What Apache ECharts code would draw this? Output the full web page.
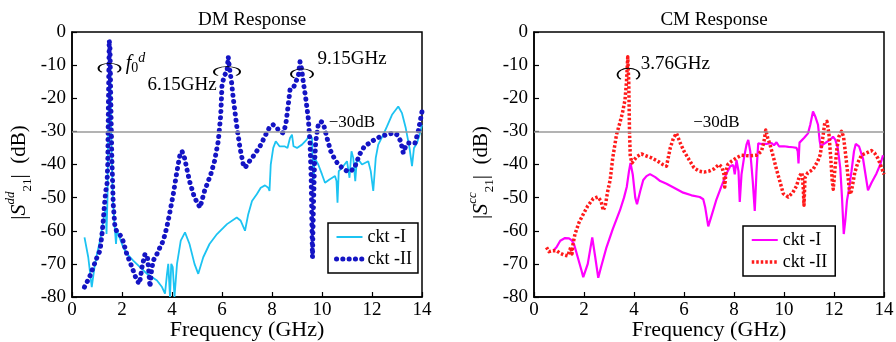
<!DOCTYPE html>
<html>
<head>
<meta charset="utf-8">
<script src="https://cdn.jsdelivr.net/npm/echarts@6/dist/echarts.min.js"></script>
<style>
html,body{margin:0;padding:0;background:#fff;}
#main{width:896px;height:342px;}
</style>
</head>
<body>
<div id="main"></div>
<script>
// DM response, ckt-I
var dmFreq1 = [0.5,0.65,0.79,0.9,1.0,1.12,1.25,1.35,1.38,1.42,1.46,1.5,1.54,1.58,1.63,1.7,1.76,1.8,1.9,2.05,2.2,2.45,2.72,3.0,3.4,3.6,3.72,3.8,3.85,3.92,3.97,4.03,4.1,4.2,4.35,4.52,4.7,4.9,5.05,5.25,5.5,5.8,6.2,6.59,6.75,6.92,7.05,7.2,7.39,7.55,7.72,7.85,7.9,7.95,8.05,8.15,8.3,8.5,8.62,8.72,8.8,8.86,9.0,9.2,9.39,9.5,9.55,9.6,9.63,9.66,9.7,9.85,10.0,10.12,10.3,10.52,10.58,10.62,10.67,10.8,11.0,11.05,11.1,11.18,11.25,11.33,11.4,11.6,11.85,11.95,12.05,12.15,12.25,12.45,12.6,12.8,13.05,13.2,13.35,13.5,13.6,13.68,13.8,13.9,14.0];
var dmDb1 = [-62,-68,-77,-71,-67,-63,-57,-53,-61,-50,-25,-3,-12,-35,-50,-58,-64,-60,-62,-65,-67,-69,-71,-73,-75,-77,-79,-73,-70,-80,-70,-71,-80,-70,-63,-60.5,-64,-70,-73,-68,-64,-61,-58,-56,-57,-60,-55,-51,-49,-47,-46.3,-47,-48,-40,-35,-33,-34.5,-34.5,-35,-32,-31,-34.5,-35,-34,-32.5,-31,-30.5,-32,-40,-46,-38,-40,-43,-45.5,-44.5,-43.5,-45,-51.5,-42,-41,-39,-39,-44,-36,-38,-45,-38,-40,-39,-42,-48,-38,-34,-31,-28.5,-25,-22.5,-24.5,-29,-35,-40.5,-35,-33.5,-31,-28];

// DM response, ckt-II
var dmFreq2 = [0.5,0.7,0.85,1.0,1.12,1.2,1.25,1.3,1.35,1.4,1.43,1.46,1.49,1.52,1.55,1.59,1.65,1.72,1.78,1.85,2.0,2.19,2.4,2.59,2.7,2.8,2.92,3.02,3.08,3.12,3.18,3.25,3.4,3.52,3.65,3.79,3.9,4.05,4.2,4.32,4.4,4.5,4.7,4.9,5.12,5.3,5.45,5.55,5.62,5.7,5.85,5.95,6.0,6.1,6.2,6.25,6.3,6.38,6.45,6.6,6.72,6.85,6.92,7.1,7.3,7.52,7.75,7.92,8.05,8.2,8.3,8.45,8.55,8.65,8.72,8.85,8.95,9.05,9.12,9.18,9.25,9.35,9.45,9.52,9.57,9.6,9.62,9.65,9.7,9.75,9.85,9.95,10.05,10.2,10.35,10.55,10.8,11.0,11.15,11.3,11.5,11.7,11.9,12.1,12.35,12.6,12.85,13.0,13.15,13.25,13.32,13.45,13.6,13.72,13.85,13.95,14.0];
var dmDb2 = [-77,-74,-71,-68,-66,-61,-57,-52,-48,-46,-40,-20,-2.5,-5,-20,-37,-52,-59,-60,-60,-62,-67,-71,-75,-76,-71,-67,-68,-73,-77,-72,-69,-67,-65,-63,-59,-55,-49,-42,-37,-36,-38,-45,-50,-53,-48,-45,-43,-43,-39,-33,-25,-16,-13,-12,-7.5,-11,-15,-20,-29,-35,-40,-41,-39,-37,-34.5,-31,-28.5,-28,-29,-30,-30.5,-28,-22,-17.5,-17,-15,-13.5,-9,-11,-15,-20,-26,-33,-45,-60,-68,-55,-40,-33,-28,-27,-27.5,-32,-36,-39,-41,-42,-42,-41,-37,-34.5,-33.5,-32.5,-31.5,-31,-30.5,-31,-33,-36.5,-35,-33.5,-33.5,-33.5,-30,-26,-24];

// CM response, ckt-I
var cmFreq1 = [0.77,0.9,1.05,1.24,1.4,1.51,1.6,1.75,1.9,1.97,2.05,2.15,2.33,2.45,2.57,2.68,2.9,3.15,3.44,3.6,3.71,3.8,3.86,3.95,4.05,4.12,4.25,4.37,4.5,4.64,4.85,5.05,5.3,5.6,5.97,6.3,6.63,6.77,6.85,6.97,7.1,7.3,7.5,7.7,7.85,7.97,8.03,8.1,8.18,8.23,8.3,8.4,8.5,8.57,8.65,8.75,8.83,8.9,8.97,9.1,9.3,9.5,9.6,9.7,9.8,10.0,10.18,10.35,10.5,10.55,10.58,10.62,10.8,10.96,11.05,11.16,11.25,11.36,11.43,11.48,11.55,11.65,11.85,11.96,12.05,12.15,12.25,12.32,12.39,12.45,12.52,12.6,12.7,12.8,12.87,13.0,13.16,13.28,13.36,13.5,13.7,13.85,13.96];
var cmDb1 = [-66,-65,-63,-62.2,-62.3,-62.9,-64,-68,-72,-74,-74,-70,-62,-68,-74.2,-71,-65,-59.5,-53.8,-50,-46.8,-42,-39.5,-43,-50,-52,-48,-44.7,-43.5,-42.9,-43.8,-45,-45.8,-47,-48.5,-49.3,-49.8,-50.5,-53,-58.7,-55.5,-50.5,-46.5,-42.7,-40.5,-40.2,-43,-38.7,-42,-51.3,-43,-38,-34,-32.6,-36,-45,-54,-42,-33.6,-33.8,-33.8,-33.5,-34.2,-33.3,-34.5,-34.5,-34.7,-34.8,-35,-36,-39.7,-33.4,-32,-30.6,-28,-24,-25.5,-28,-33,-35,-34,-33.5,-32.5,-31.6,-32.5,-35,-41,-50,-61,-57,-50.8,-47.5,-42,-36,-33.8,-34.5,-38.2,-44,-47.8,-45.5,-42.7,-40,-37.2];

// CM response, ckt-II
var cmFreq2 = [0.5,0.6,0.75,0.9,1.05,1.2,1.35,1.42,1.47,1.52,1.56,1.64,1.8,1.97,2.15,2.37,2.55,2.68,2.77,2.85,2.95,3.05,3.15,3.3,3.45,3.55,3.64,3.7,3.75,3.79,3.82,3.85,3.92,4.0,4.1,4.3,4.45,4.7,4.95,5.15,5.3,5.45,5.58,5.7,5.85,6.0,6.2,6.4,6.6,6.8,7.0,7.2,7.4,7.52,7.6,7.63,7.68,7.75,7.9,8.1,8.3,8.6,8.9,9.1,9.2,9.27,9.35,9.44,9.55,9.7,9.85,9.97,10.17,10.35,10.5,10.62,10.72,10.77,10.8,10.84,10.95,11.16,11.35,11.45,11.55,11.63,11.72,11.8,11.87,11.93,11.97,12.03,12.12,12.2,12.3,12.38,12.48,12.58,12.63,12.7,12.83,12.95,13.1,13.3,13.5,13.62,13.76,13.88,14.0];
var cmDb2 = [-65,-66.3,-66,-66,-66.8,-67.3,-67.6,-68,-65,-67,-64,-61,-57.5,-55,-52.5,-50.3,-49.8,-51,-53.8,-52.5,-48,-44.5,-38,-31,-27,-24,-20.5,-15,-7.5,-15,-30,-37.5,-39.5,-39,-37.7,-36.8,-37.3,-38,-39,-40,-40.5,-35,-32,-30.6,-33.5,-36,-38.5,-41,-42,-42.3,-42,-41.3,-40,-40.8,-43,-46.8,-42,-40,-39,-38,-37.2,-37.4,-37.2,-36,-33,-29.6,-32,-34,-37,-41.5,-45.5,-48.8,-49.8,-48.5,-46.5,-43.5,-42.5,-47,-52.3,-44,-42.5,-41.5,-39,-37,-32,-27.5,-27,-31,-38,-45,-47.5,-42,-35,-31.5,-30,-31.5,-38,-45,-49,-48,-42.5,-39.5,-37.2,-36.5,-35.8,-36.5,-38.2,-40.5,-43];

var xTicks = [0,2,4,6,8,10,12,14];
var limitDb = -30;

var serif = 'Liberation Serif';
var ellipsePath = 'path://M3,8.6 A10,4.5 0 1,1 17,8.6';

var blueDots = {color:'#1414c4', width:5, type:[0.1,6.2], cap:'round', join:'round'};
var redDots = {color:'#ff1a1a', width:3.5, type:[2.5,2], join:'round'};

function pairs(xs, ys){
	var out = [];
	for (var i = 0; i < xs.length; i++) out.push([xs[i], ys[i]]);
	return out;
}

function xAxisOf(idx){
	return {
		type:'value', gridIndex:idx, min:xTicks[0], max:xTicks[xTicks.length-1], interval:2,
		name:'Frequency (GHz)', nameLocation:'middle', nameGap:22, nameMoveOverlap:false,
		nameTextStyle:{fontFamily:serif, fontSize:22, color:'#000', verticalAlign:'top'},
		axisLine:{onZero:false, lineStyle:{color:'#000', width:1.5}},
		axisTick:{inside:true, length:5, lineStyle:{color:'#000', width:1.2}},
		axisLabel:{fontFamily:serif, fontSize:19, color:'#000', margin:4},
		splitLine:{show:false}
	};
}

function yAxisOf(idx, sup){
	return {
		type:'value', gridIndex:idx, min:-80, max:0, interval:10,
		name:'|{it|S}{sup|' + sup + '}{sub|21}|  (dB)', nameLocation:'middle', nameGap:38, nameMoveOverlap:false,
		nameTextStyle:{
			fontFamily:serif, fontSize:21, color:'#000', lineHeight:30, padding:[0,16,0,0],
			rich:{
				it:{fontFamily:serif, fontStyle:'italic', fontSize:22, color:'#000', lineHeight:30},
				sup:{fontFamily:serif, fontStyle:'italic', fontSize:13, color:'#000', verticalAlign:'top', lineHeight:30},
				sub:{fontFamily:serif, fontSize:13, color:'#000', verticalAlign:'bottom', lineHeight:30}
			}
		},
		axisLine:{lineStyle:{color:'#000', width:1.5}},
		axisTick:{inside:true, length:5, lineStyle:{color:'#000', width:1.2}},
		axisLabel:{fontFamily:serif, fontSize:19, color:'#000', margin:6},
		splitLine:{show:false}
	};
}

function note(coord, text, size, align){
	return {
		coord:coord, symbol:size ? ellipsePath : 'circle', symbolSize:size || 0,
		itemStyle:{color:'none', borderColor:'#000', borderWidth:1.2},
		label:{show:!!text, formatter:text || '', position:'inside', align:align || 'center',
			fontFamily:serif, fontSize:19, color:'#000',
			rich:{it:{fontFamily:serif, fontStyle:'italic', fontSize:20, color:'#000'},
				sub:{fontFamily:serif, fontSize:14, color:'#000', padding:[10,0,0,0]},
				sup:{fontFamily:serif, fontStyle:'italic', fontSize:14, color:'#000', padding:[0,0,10,0]}}}
	};
}

function limitLine(){
	return {
		silent:true, symbol:['none','none'],
		lineStyle:{color:'#9a9a9a', width:1.5, type:'solid'},
		label:{show:false},
		data:[{yAxis:limitDb}]
	};
}

var legendBase = {
	orient:'vertical', itemWidth:26, itemHeight:12, itemGap:4,
	borderColor:'#000', borderWidth:1.5, borderRadius:0, backgroundColor:'#fff',
	itemStyle:{color:'rgba(0,0,0,0)', borderColor:'rgba(0,0,0,0)', borderWidth:0},
	textStyle:{fontFamily:serif, fontSize:18, color:'#000'}
};

var myChart = echarts.init(document.getElementById('main'));
var option = {
	backgroundColor:'#fff',
	animation:false,
	textStyle:{fontFamily:serif},
	title:[
		{text:'DM Response', left:247, top:6, textAlign:'center', textStyle:{fontFamily:serif, fontSize:19, fontWeight:'normal', color:'#000'}},
		{text:'CM Response', left:709, top:6, textAlign:'center', textStyle:{fontFamily:serif, fontSize:19, fontWeight:'normal', color:'#000'}}
	],
	grid:[
		{left:72, top:32, width:350, height:265, outerBoundsMode:'none', containLabel:false, show:true, borderColor:'#000', borderWidth:1.5, backgroundColor:'transparent'},
		{left:534, top:32, width:350, height:265, outerBoundsMode:'none', containLabel:false, show:true, borderColor:'#000', borderWidth:1.5, backgroundColor:'transparent'}
	],
	legend:[
		echarts.util.merge({data:['ckt -I', {name:'ckt -II', lineStyle:blueDots}], left:328, top:223, padding:[5,6,5,6]}, legendBase),
		echarts.util.merge({data:['ckt -I ', {name:'ckt -II ', lineStyle:redDots}], left:743, top:226, padding:[5,8,5,7],
			formatter:function(n){ return n.trim(); }}, legendBase)
	],
	xAxis:[xAxisOf(0), xAxisOf(1)],
	yAxis:[yAxisOf(0,'dd'), yAxisOf(1,'cc')],
	series:[
		{
			name:'ckt -I', type:'line', xAxisIndex:0, yAxisIndex:0, showSymbol:false, symbol:'none',
			data:pairs(dmFreq1, dmDb1), z:2,
			lineStyle:{color:'#1cc3f2', width:1.8}, itemStyle:{color:'#1cc3f2'},
			markLine:limitLine()
		},
		{
			name:'ckt -II', type:'line', xAxisIndex:0, yAxisIndex:0, showSymbol:false, symbol:'none',
			data:pairs(dmFreq2, dmDb2), z:3,
			lineStyle:blueDots, itemStyle:{color:'#1414c4'},
			markPoint:{
				silent:true,
				data:[
					note([1.5,-10.8], null, [22,9]),
					note([2.15,-9.5], '{it|f}{sub|0}{sup|d}', null, 'left'),
					note([6.2,-11.8], null, [26,9]),
					note([4.4,-16], '6.15GHz'),
					note([9.2,-12.5], null, [22,9]),
					note([11.2,-8.2], '9.15GHz'),
					{coord:[11.2,-27.3], symbol:'circle', symbolSize:0,
						label:{show:true, formatter:'\u221230dB', position:'inside', fontFamily:serif, fontSize:17, color:'#000'}}
				]
			}
		},
		{
			name:'ckt -I ', type:'line', xAxisIndex:1, yAxisIndex:1, showSymbol:false, symbol:'none',
			data:pairs(cmFreq1, cmDb1), z:2,
			lineStyle:{color:'#ff00ff', width:2.2}, itemStyle:{color:'#ff00ff'},
			markLine:limitLine()
		},
		{
			name:'ckt -II ', type:'line', xAxisIndex:1, yAxisIndex:1, showSymbol:false, symbol:'none',
			data:pairs(cmFreq2, cmDb2), z:3,
			lineStyle:redDots, itemStyle:{color:'#ff1a1a'},
			markPoint:{
				silent:true,
				data:[
					note([3.78,-12.6], null, [22,11]),
					note([5.65,-9.6], '3.76GHz'),
					{coord:[7.3,-27.4], symbol:'circle', symbolSize:0,
						label:{show:true, formatter:'\u221230dB', position:'inside', fontFamily:serif, fontSize:17, color:'#000'}}
				]
			}
		}
	]
};
myChart.setOption(option);
</script>
</body>
</html>
